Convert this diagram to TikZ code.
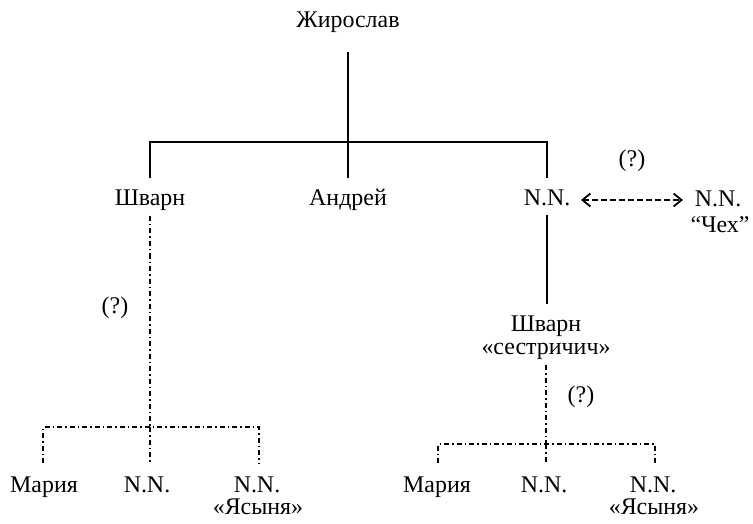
\documentclass[tikz,border=0pt]{standalone}
\usepackage{fontspec}
\setmainfont{Liberation Serif}
\usetikzlibrary{arrows.meta}
\begin{document}
\begin{tikzpicture}[x=1bp,y=-1bp,
  lbl/.style={anchor=base,inner sep=0pt,font=\fontsize{24}{24}\selectfont},
  solidln/.style={line width=1.2bp},
  ddln/.style={line width=1.4bp,dash pattern=on 5bp off 3bp on 1.5bp off 3bp},
  dashln/.style={line width=1.3bp,dash pattern=on 6bp off 3bp,
    {Straight Barb[length=8bp,width=13bp,line width=1.8bp]}-{Straight Barb[length=8bp,width=13bp,line width=1.8bp]}}]
\useasboundingbox (0,0) rectangle (753,524);
% texts
\node[lbl] (zh) at (348,28) {Жирослав};
\node[lbl] (shv) at (150,206) {Шварн};
\node[lbl] (and) at (348,206) {Андрей};
\node[lbl] (nn) at (547,206) {N.N.};
\node[lbl] (nnr) at (718,207) {N.N.};
\node[lbl] (chex) at (720,233) {“Чех”};
\node[lbl] (q1) at (632,167) {(?)};
\node[lbl] (q2) at (115,313) {(?)};
\node[lbl] (shv2) at (546,331) {Шварн};
\node[lbl] (sest) at (546,354) {«сестричич»};
\node[lbl] (q3) at (581,402) {(?)};
\node[lbl] (m1) at (44,492) {Мария};
\node[lbl] (n1) at (147,492) {N.N.};
\node[lbl] (n2) at (257,492) {N.N.};
\node[lbl] (ya1) at (258,514) {«Ясыня»};
\node[lbl] (m2) at (437,492) {Мария};
\node[lbl] (n3) at (544,492) {N.N.};
\node[lbl] (n4) at (653,492) {N.N.};
\node[lbl] (ya2) at (654,514) {«Ясыня»};
% coordinates
\coordinate (zt) at (348,52);
\coordinate (zj) at (348,142);
\coordinate (jl) at (150,142);
\coordinate (jr) at (547,142);
\coordinate (shvt) at (150,178);
\coordinate (andt) at (348,178);
\coordinate (nnt) at (547,178);
\coordinate (shvb) at (150,216);
\coordinate (lj) at (150,427);
\coordinate (ljl) at (43,427);
\coordinate (ljr) at (259,427);
\coordinate (m1t) at (43,463);
\coordinate (n1t) at (150,463);
\coordinate (n2t) at (259,463);
\coordinate (nnb) at (547,215);
\coordinate (shv2t) at (547,304);
\coordinate (sestb) at (546,365);
\coordinate (rj) at (546,444);
\coordinate (rjl) at (438,444);
\coordinate (rjr) at (655,444);
\coordinate (m2t) at (438,463);
\coordinate (n3t) at (546,463);
\coordinate (n4t) at (655,463);
\coordinate (a1) at (581,200);
\coordinate (a2) at (683,200);
% solid tree
\draw[solidln] (zt) -- (zj);
\draw[solidln] (shvt) -- (jl) -- (jr) -- (nnt);
\draw[solidln] (zj) -- (andt);
\draw[solidln] (nnb) -- (shv2t);
% dashed arrow
\draw[dashln] (a1) -- (a2);
% dash-dot lines
\draw[ddln] (shvb) -- (lj);
\draw[ddln] (m1t) -- (ljl) -- (ljr) -- (n2t);
\draw[ddln] (lj) -- (n1t);
\draw[ddln] (sestb) -- (rj);
\draw[ddln] (m2t) -- (rjl) -- (rjr) -- (n4t);
\draw[ddln] (rj) -- (n3t);
\end{tikzpicture}
\end{document}
